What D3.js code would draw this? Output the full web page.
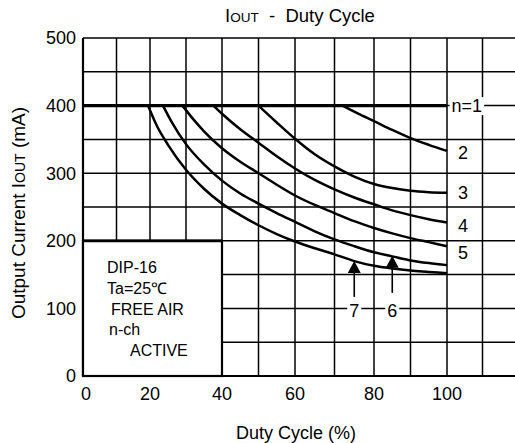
<!DOCTYPE html>
<html><head><meta charset="utf-8">
<script src="https://cdn.jsdelivr.net/npm/d3@7"></script>
<style>
body{margin:0;background:#fff}
text{font-family:"Liberation Sans",Arial,sans-serif;fill:#000}
</style>
</head><body>
<svg id="c" width="515" height="443"></svg>
<script>
// ---- data ----
const xTicks = [0, 20, 40, 60, 80, 100];
const yTicks = [0, 100, 200, 300, 400, 500];
const xGrid = [10, 20, 30, 40, 50, 60, 70, 80, 90, 100, 110];
const yGrid = [50, 100, 150, 200, 250, 300, 350, 400, 450, 500];
const seriesNames = ["n=1", "2", "3", "4", "5", "6", "7"];
const n1 = [[0,400],[100,400]];
const n2 = [[72,400],[76,388],[80,377],[85,364],[90,352],[95,342],[100,333]];
const n3 = [[50,400],[55,375],[60,351],[65,328],[70,310],[75,295],[80,284],[85,278],[90,274],[95,272],[100,271]];
const n4 = [[37.6,400],[40,388],[45,365],[50,345],[55,325],[60,307],[65,290],[70,276],[75,264],[80,254],[85,245],[90,238],[95,232],[100,227]];
const n5 = [[29,400],[32,380],[35,362],[40,337],[45,317],[50,300],[55,283],[60,267],[65,253],[70,241],[75,229],[80,219],[85,211],[90,204],[95,198],[100,192]];
const n6 = [[23.6,400],[26,376],[30,343],[35,313],[40,289],[45,270],[50,255],[55,241],[60,228],[65,214],[70,202],[75,192],[80,183],[85,177],[90,171],[95,167],[100,164]];
const n7 = [[19.4,400],[22,369],[25,342],[30,305],[35,277],[40,255],[45,238],[50,223],[55,210],[60,199],[65,189],[70,180],[75,170],[80,163],[85,159],[90,156],[95,154],[100,152]];
const endLabels = [["n=1",105.6,400],["2",104.5,330],["3",104.5,271],["4",104.5,223],["5",104.5,182]];
const arrows = [["7",75,170,117,97],["6",85,178,123,97]]; // label, duty, tip, tail, label value
const infoLines = ["DIP-16","Ta=25℃","FREE AIR","n-ch","ACTIVE"];

// ---- scales ----
const svg = d3.select("#c");
const x = d3.scaleLinear().domain([0,20,40,60,80,100,120]).range([83,150,222,295,374,447,518]);
const y = d3.scaleLinear().domain([0,500]).range([376,38]);

const g = svg.append("g");
g.selectAll(".vg").data(xGrid).join("line")
  .attr("x1", d=>x(d)).attr("x2", d=>x(d))
  .attr("y1", y(0)).attr("y2", y(500))
  .attr("stroke","#000").attr("stroke-width",1.5);
g.selectAll(".hg").data(yGrid).join("line")
  .attr("x1", x(0)).attr("x2", 515)
  .attr("y1", d=>y(d)).attr("y2", d=>y(d))
  .attr("stroke","#000").attr("stroke-width",1.5);
g.append("line").attr("x1",x(0)).attr("x2",x(0)).attr("y1",y(0)).attr("y2",y(500)).attr("stroke","#000").attr("stroke-width",2.2);
g.append("line").attr("x1",x(0)).attr("x2",515).attr("y1",y(0)).attr("y2",y(0)).attr("stroke","#000").attr("stroke-width",2.2);

// info box
g.append("rect").attr("x",x(0)).attr("y",y(200)).attr("width",x(40)-x(0)).attr("height",y(0)-y(200))
  .attr("fill","#fff").attr("stroke","#000").attr("stroke-width",2.2);
g.append("line").attr("x1",x(0)).attr("x2",x(40)).attr("y1",y(200)).attr("y2",y(200)).attr("stroke","#000").attr("stroke-width",2.8);
const infoX = [107,107,111,109,130];
const infoY = [273,294,315,335,356];
g.selectAll(".info").data(infoLines).join("text")
  .attr("x",(d,i)=>infoX[i]).attr("y",(d,i)=>infoY[i])
  .attr("font-size",16).text(d=>d);

// curves
const line = d3.line().x(d=>x(d[0])).y(d=>y(d[1])).curve(d3.curveMonotoneX);
const allSeries = [n1,n2,n3,n4,n5,n6,n7];
g.selectAll(".curve").data(allSeries).join("path")
  .attr("d", line).attr("fill","none").attr("stroke","#000")
  .attr("stroke-width",(d,i)=> i===0 ? 3.2 : 2.5);

// end labels
const el = g.selectAll(".el").data(endLabels).join("g");
el.each(function(d){
  const s = d3.select(this);
  const t = s.append("text").attr("x",x(d[1])).attr("y",y(d[2])).attr("dy","0.36em")
    .attr("text-anchor","middle").attr("font-size",18).text(d[0]);
  const b = t.node().getBBox();
  s.insert("rect","text").attr("x",b.x-2).attr("y",b.y+1).attr("width",b.width+4).attr("height",b.height-2).attr("fill","#fff");
});

// arrows
const ar = g.selectAll(".ar").data(arrows).join("g");
ar.each(function(d){
  const s = d3.select(this);
  const cx = x(d[1]), tip = y(d[2]), tail = y(d[3]);
  s.append("line").attr("x1",cx).attr("x2",cx).attr("y1",tail).attr("y2",tip+8).attr("stroke","#000").attr("stroke-width",1.6);
  s.append("path").attr("d",`M${cx},${tip}L${cx-6.5},${tip+12}L${cx+6.5},${tip+12}Z`).attr("fill","#000");
  const t = s.append("text").attr("x",cx).attr("y",y(d[4])).attr("dy","0.36em")
    .attr("text-anchor","middle").attr("font-size",18).text(d[0]);
  const b = t.node().getBBox();
  s.insert("rect","text").attr("x",b.x-2).attr("y",b.y+1).attr("width",b.width+4).attr("height",b.height-2).attr("fill","#fff");
});

// tick labels
svg.selectAll(".xt").data(xTicks).join("text")
  .attr("x",d=>x(d)+ (d===0?3:0)).attr("y",400).attr("text-anchor","middle").attr("font-size",18).text(d=>d);
svg.selectAll(".yt").data(yTicks).join("text")
  .attr("x",76).attr("y",d=>y(d)).attr("dy","0.36em").attr("text-anchor","end").attr("font-size",18).text(d=>d);

// titles
const title = svg.append("text").attr("x",300).attr("y",22).attr("text-anchor","middle").attr("font-size",18.5);
title.append("tspan").text("I");
title.append("tspan").attr("font-size",13.5).text("OUT");
title.append("tspan").attr("xml:space","preserve").text("  -  Duty Cycle");

svg.append("text").attr("x",296).attr("y",439).attr("text-anchor","middle").attr("font-size",18)
  .text("Duty Cycle (%)");

const yt = svg.append("text").attr("transform","translate(25,213) rotate(-90)").attr("text-anchor","middle").attr("font-size",19);
yt.append("tspan").text("Output Current I");
yt.append("tspan").attr("font-size",14).text("OUT");
yt.append("tspan").text(" (mA)");
</script>
</body></html>
